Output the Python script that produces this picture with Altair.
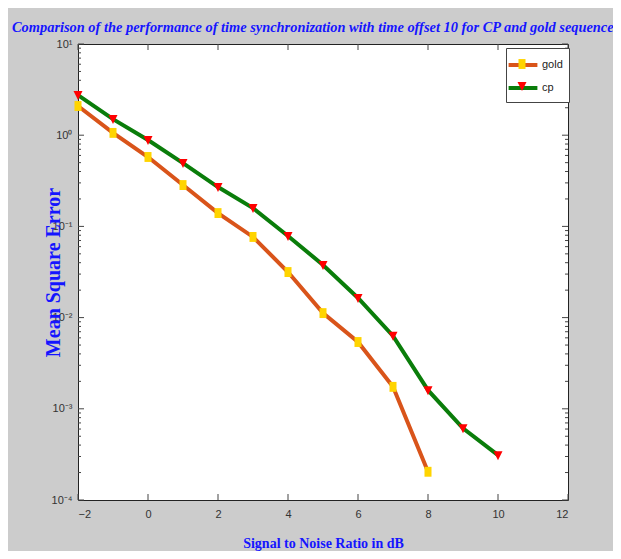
import altair as alt
import pandas as pd

snr = [-2, -1, 0, 1, 2, 3, 4, 5, 6, 7, 8, 9, 10]
cp_mse = [2.75, 1.5, 0.885, 0.495, 0.27, 0.159, 0.0785, 0.0378, 0.0164, 0.0063, 0.0016, 0.00061, 0.00031]
gold_snr = [-2, -1, 0, 1, 2, 3, 4, 5, 6, 7, 8]
gold_mse = [2.09, 1.06, 0.577, 0.284, 0.14, 0.0766, 0.0316, 0.0112, 0.0054, 0.00174, 0.000204]
series_names = ["gold", "cp"]
x_ticks = [-2, 0, 2, 4, 6, 8, 10, 12]
y_major = [1e-4, 1e-3, 1e-2, 1e-1, 1, 10]
y_minor = [m * 10.0 ** e for e in range(-4, 1) for m in range(2, 10)]

rows = []
for x, v in zip(gold_snr, gold_mse):
    rows.append({"snr": x, "mse": v, "series": "gold", "label": "gold"})
for x, v in zip(snr, cp_mse):
    rows.append({"snr": x, "mse": v, "series": "cp", "label": "cp"})
df = pd.DataFrame(rows)

W, H = 490, 456
SANS = "Liberation Sans, Arial, sans-serif"
SERIF = "Liberation Serif, Times New Roman, serif"
BLUE = "#1515ff"
line_colors = ["#d9541a", "#0a7d0a"]
marker_colors = ["#ffd400", "#ff0000"]

xs = alt.Scale(domain=[-2, 12], nice=False, zero=False)
ys = alt.Scale(type="log", domain=[1e-4, 10], nice=False)

sup = "['⁻⁴','⁻³','⁻²','⁻¹','⁰','¹'][round(log(datum.value)/LN10)+4]"

base = alt.Chart(df).encode(
    x=alt.X("snr:Q", scale=xs,
            axis=alt.Axis(values=x_ticks, grid=False, ticks=False, domain=False,
                          labelFont=SANS, labelFontSize=11, labelColor="#333333",
                          labelPadding=8, title="Signal to Noise Ratio in dB",
                          titleFont=SERIF, titleFontSize=14, titleFontWeight="bold",
                          titleColor=BLUE, titlePadding=17)),
    y=alt.Y("mse:Q", scale=ys,
            axis=alt.Axis(values=y_major, grid=False, ticks=False, domain=False,
                          labelExpr="'10' + " + sup,
                          labelFont=SANS, labelFontSize=11, labelColor="#333333",
                          labelPadding=6, title="Mean Square Error",
                          titleFont=SERIF, titleFontSize=20, titleFontWeight="bold",
                          titleColor=BLUE, titleX=-15, titleY=228)),
)

LEG = dict(title=None, orient="none", legendX=428, legendY=4, symbolSize=324,
           labelOffset=8, labelFont=SANS, labelFontSize=11, rowPadding=4, padding=6)

lines = base.mark_line(strokeWidth=4).encode(
    stroke=alt.Stroke("series:N",
                      scale=alt.Scale(domain=series_names, range=line_colors),
                      legend=alt.Legend(symbolType="M-1.6,0H1.6", symbolStrokeWidth=4,
                                        labelColor="#222222", strokeColor="#444444",
                                        fillColor="white", zindex=0, **LEG))
)

rect_path = "M-0.39,-0.55H0.39V0.55H-0.39Z"
tri_path = "M-0.5,-0.45L0.5,-0.45L0,0.55Z"
fill_sig = "datum.value === '%s' ? '%s' : '%s'" % (series_names[0], marker_colors[0], marker_colors[1])
pt_leg = alt.Legend(labelColor="transparent", zindex=1,
                    symbolFillColor=alt.ExprRef(expr=fill_sig),
                    symbolStrokeColor="transparent", symbolOpacity=1,
                    **LEG)
pts = base.mark_point(filled=True, opacity=1, size=324, strokeWidth=0).encode(
    color=alt.Color("label:N", sort=series_names,
                    scale=alt.Scale(range=marker_colors), legend=None),
    shape=alt.Shape("label:N", sort=series_names,
                    scale=alt.Scale(range=[rect_path, tri_path]), legend=pt_leg),
)

# inward tick marks (MATLAB box style)
ymaj_df = pd.DataFrame({"v": y_major})
ymin_df = pd.DataFrame({"v": y_minor})
xt_df = pd.DataFrame({"v": x_ticks})
tick_color = "#444444"

ymaj_l = alt.Chart(ymaj_df).mark_rule(color=tick_color).encode(
    y=alt.Y("v:Q", scale=ys), x=alt.value(0), x2=alt.value(6))
ymaj_r = alt.Chart(ymaj_df).mark_rule(color=tick_color).encode(
    y=alt.Y("v:Q", scale=ys), x=alt.value(W), x2=alt.value(W - 6))
ymin_l = alt.Chart(ymin_df).mark_rule(color=tick_color).encode(
    y=alt.Y("v:Q", scale=ys), x=alt.value(0), x2=alt.value(3))
ymin_r = alt.Chart(ymin_df).mark_rule(color=tick_color).encode(
    y=alt.Y("v:Q", scale=ys), x=alt.value(W), x2=alt.value(W - 3))
xt_b = alt.Chart(xt_df).mark_rule(color=tick_color).encode(
    x=alt.X("v:Q", scale=xs), y=alt.value(H), y2=alt.value(H - 6))
xt_t = alt.Chart(xt_df).mark_rule(color=tick_color).encode(
    x=alt.X("v:Q", scale=xs), y=alt.value(0), y2=alt.value(6))

chart = alt.layer(
    ymaj_l, ymaj_r, ymin_l, ymin_r, xt_b, xt_t, lines, pts
).properties(
    width=W, height=H,
    background="#cccccc",
    padding={"left": 70, "top": 36, "right": 45, "bottom": 51},
    autosize=alt.AutoSizeParams(type="none"),
    title=alt.TitleParams(
        "Comparison of the performance of time synchronization with time offset 10 for CP and gold sequence",
        anchor="start", frame="group", dx=-66, offset=3,
        font=SERIF, fontSize=14.4, fontStyle="italic", fontWeight="bold",
        color=BLUE),
).configure_view(stroke="#222222", strokeWidth=1, fill="white")

chart.save("out.html", embed_options={"renderer": "svg", "actions": False})
